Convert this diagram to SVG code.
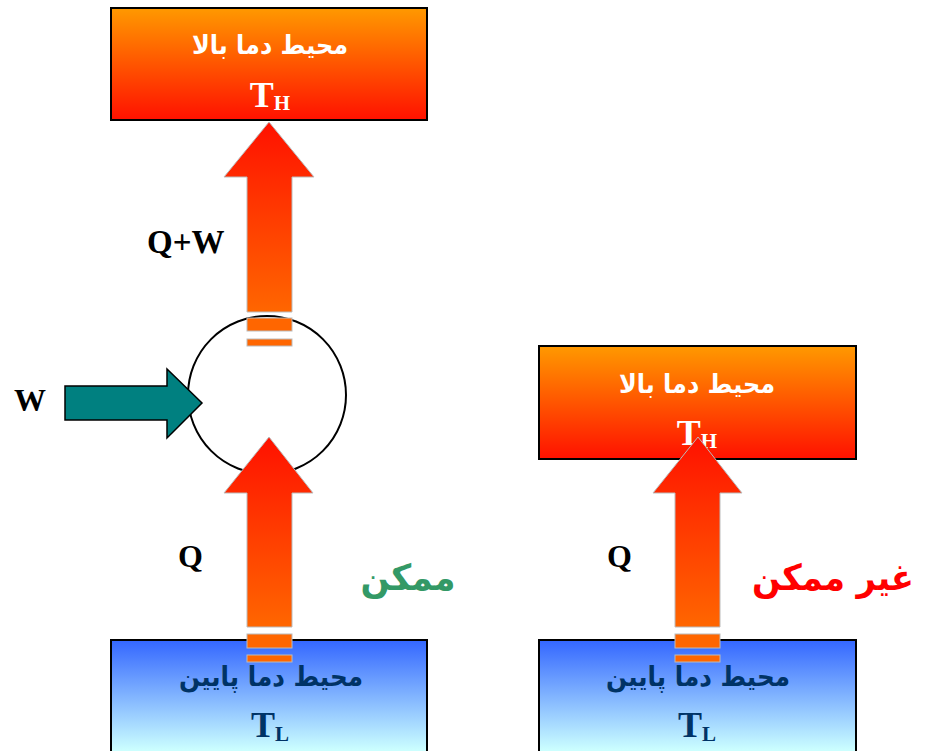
<svg xmlns="http://www.w3.org/2000/svg" width="925" height="751" viewBox="0 0 925 751">
<defs>
<linearGradient id="hot" x1="0" y1="0" x2="0" y2="1">
<stop offset="0" stop-color="#FF9900"/>
<stop offset="1" stop-color="#FF1100"/>
</linearGradient>
<linearGradient id="cold" x1="0" y1="0" x2="0" y2="1">
<stop offset="0" stop-color="#3366FF"/>
<stop offset="0.85" stop-color="#CCFFFF"/>
<stop offset="1" stop-color="#CCFFFF"/>
</linearGradient>
<linearGradient id="arr" x1="0" y1="0" x2="0" y2="1">
<stop offset="0" stop-color="#FF1100"/>
<stop offset="1" stop-color="#FF6600"/>
</linearGradient>
</defs>
<style>
.box{stroke:#000;stroke-width:2}
.fa{font-family:"DejaVu Sans",sans-serif;font-weight:bold;text-anchor:middle}
.tm{font-family:"Liberation Serif",serif;font-weight:bold}
.arrow{fill:url(#arr);stroke:#BBBBBB;stroke-width:1}
.band{fill:#FF6600;stroke:#BBBBBB;stroke-width:1}
</style>
<rect width="925" height="751" fill="#fff"/>

<g id="hot-left">
<rect class="box" x="111" y="8" width="316" height="112" fill="url(#hot)"/>
<text class="fa" x="270" y="54" font-size="26" fill="#fff" textLength="156" lengthAdjust="spacingAndGlyphs">محیط دما بالا</text>
<text class="tm" x="270" y="107" font-size="36" fill="#fff" text-anchor="middle">T<tspan font-size="21" dy="3">H</tspan></text>
</g>

<g id="hot-right">
<rect class="box" x="539" y="346" width="317" height="113" fill="url(#hot)"/>
<text class="fa" x="697" y="393" font-size="26" fill="#fff" textLength="156" lengthAdjust="spacingAndGlyphs">محیط دما بالا</text>
<text class="tm" x="697" y="445" font-size="36" fill="#fff" text-anchor="middle">T<tspan font-size="21" dy="3">H</tspan></text>
</g>

<g id="cold-left">
<rect class="box" x="111" y="640" width="316" height="130" fill="url(#cold)"/>
<text class="fa" x="271" y="686" font-size="27" fill="#003366" textLength="184" lengthAdjust="spacingAndGlyphs">محیط دما پایین</text>
<text class="tm" x="270" y="737" font-size="36" fill="#003366" text-anchor="middle">T<tspan font-size="21" dy="4">L</tspan></text>
</g>

<g id="cold-right">
<rect class="box" x="539" y="640" width="317" height="130" fill="url(#cold)"/>
<text class="fa" x="698" y="686" font-size="27" fill="#003366" textLength="184" lengthAdjust="spacingAndGlyphs">محیط دما پایین</text>
<text class="tm" x="697" y="737" font-size="36" fill="#003366" text-anchor="middle">T<tspan font-size="21" dy="4">L</tspan></text>
</g>

<g id="engine">
<circle cx="267" cy="395" r="79" fill="none" stroke="#000" stroke-width="2"/>
</g>

<g id="connectors">
<path class="arrow" d="M269,122 L314,177 L292,177 L292,312 L247,312 L247,177 L224,177 Z"/>
<rect class="band" x="247" y="318" width="45" height="13"/>
<rect class="band" x="247" y="339" width="45" height="7"/>

<path class="arrow" d="M269,437 L313,493 L292,493 L292,627 L247,627 L247,493 L224,493 Z"/>
<rect class="band" x="247" y="634" width="45" height="14"/>
<rect class="band" x="247" y="655" width="45" height="7"/>

<path class="arrow" d="M698,437 L742,493 L720,493 L720,627 L675,627 L675,493 L653,493 Z"/>
<rect class="band" x="675" y="634" width="45" height="14"/>
<rect class="band" x="675" y="655" width="45" height="7"/>

<path d="M65,386 L167,386 L167,369 L202,403 L167,438 L167,420 L65,420 Z" fill="#008080" stroke="#000" stroke-width="1.5"/>
</g>

<g id="labels">
<text class="tm" x="147" y="253" font-size="33" fill="#000">Q+W</text>
<text class="tm" x="14" y="411" font-size="32" fill="#000">W</text>
<text class="tm" x="178" y="567" font-size="32" fill="#000">Q</text>
<text class="tm" x="607" y="567" font-size="32" fill="#000">Q</text>
<text class="fa" x="408" y="590" font-size="36" fill="#339966" textLength="95" lengthAdjust="spacingAndGlyphs">ممکن</text>
<text class="fa" x="833" y="590" font-size="36" fill="#FF0000" textLength="162" lengthAdjust="spacingAndGlyphs">غیر ممکن</text>
</g>
</svg>
